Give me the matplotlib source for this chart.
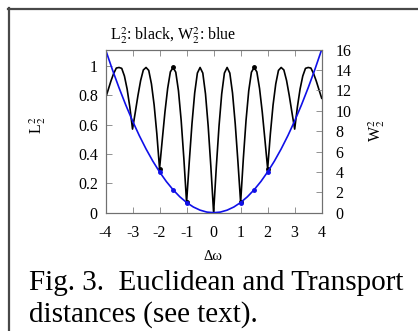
import numpy as np
import matplotlib.pyplot as plt
from matplotlib.lines import Line2D

plt.rcParams['font.family'] = ['Liberation Serif', 'DejaVu Serif']
plt.rcParams['mathtext.fontset'] = 'stix'

# frequency offset grid and the euclidean distance L2^2 (left axis)
dw = np.round(np.arange(-4, 4.01, 0.1), 1)
L2 = [0.78, 0.838, 0.897, 0.948, 0.986, 0.99, 0.984, 0.932, 0.843, 0.72,
      0.57, 0.682, 0.798, 0.901, 0.973, 0.99, 0.970, 0.878, 0.734, 0.537,
      0.30, 0.496, 0.687, 0.847, 0.960, 0.99, 0.958, 0.831, 0.629, 0.368,
      0.07, 0.348, 0.607, 0.816, 0.952, 0.99, 0.952, 0.810, 0.589, 0.310,
      0.0,
      0.310, 0.589, 0.810, 0.952, 0.99, 0.952, 0.816, 0.607, 0.348, 0.07,
      0.368, 0.629, 0.831, 0.958, 0.99, 0.960, 0.847, 0.687, 0.496, 0.30,
      0.537, 0.734, 0.878, 0.970, 0.99, 0.973, 0.901, 0.798, 0.682, 0.57,
      0.72, 0.843, 0.932, 0.984, 0.99, 0.986, 0.948, 0.897, 0.838, 0.78]

# transport distance W2^2 (right axis)
dw_w = np.arange(-4, 4.01, 0.25)
W2 = [16, 14.06, 12.25, 10.56, 9, 7.56, 6.25, 5.06, 4, 3.06, 2.25, 1.56,
      1, 0.56, 0.25, 0.06, 0, 0.06, 0.25, 0.56, 1, 1.56, 2.25, 3.06, 4,
      5.06, 6.25, 7.56, 9, 10.56, 12.25, 14.06, 16]

# marked samples
mark_L_x = [-2, -1.5, -1, 1, 1.5, 2]
mark_L_y = [0.30, 0.99, 0.07, 0.07, 0.99, 0.30]
mark_W_x = [-2, -1.5, -1, 1, 1.5, 2]
mark_W_y = [4, 2.25, 1, 1, 2.25, 4]

W, H = 418, 331
fig = plt.figure(figsize=(W / 100, H / 100), dpi=100)
ax = fig.add_axes([105.5 / W, 1 - 212.7 / H, 216.2 / W, 163.2 / H])
ax2 = ax.twinx()

ax.plot(dw, L2, color='black', lw=1.2)
ax.plot(mark_L_x, mark_L_y, 'o', color='black', ms=2.5)
ax2.plot(dw_w, W2, color='#1010e8', lw=1.2)
ax2.plot(mark_W_x, mark_W_y, 'o', color='#1010e8', ms=2.5)

ax.set_xlim(-4, 4)
ax.set_ylim(0, 1.1125)
ax2.set_ylim(0, 16)
ax.set_xticks(range(-4, 5))
ax.set_xticklabels([str(v) for v in range(-4, 5)])
ax.set_yticks([0, 0.2, 0.4, 0.6, 0.8, 1])
ax.set_yticklabels(['0', '0.2', '0.4', '0.6', '0.8', '1'])
ax2.set_yticks(range(0, 17, 2))

tick_col = '#808080'
ax.tick_params(axis='x', direction='in', top=True, length=4, width=0.6,
               color=tick_col, pad=9, labelsize=11.5)
ax.tick_params(axis='y', direction='in', length=4, width=0.6,
               color=tick_col, pad=5.5, labelsize=11.5)
ax2.tick_params(axis='y', direction='in', length=4, width=0.6,
                color=tick_col, pad=10, labelsize=11.5)
for a in (ax, ax2):
    for s in a.spines.values():
        s.set_color('#707070')
        s.set_linewidth(0.8)

fig.text(110 / W, 1 - 39.5 / H, r'L$_2^2$: black, W$_2^2$: blue',
         fontsize=11.5, ha='left', va='baseline')
fig.text(38 / W, 1 - 125 / H, r'L$_2^2$', fontsize=11.5, rotation=90,
         ha='center', va='center')
fig.text(377 / W, 1 - 131 / H, r'W$_2^2$', fontsize=11.5, rotation=90,
         ha='center', va='center')
fig.text(213 / W, 1 - 256 / H, 'Δω', fontsize=10.5, ha='center', va='center')

fig.text(29 / W, 1 - 289.5 / H, 'Fig. 3.  Euclidean and Transport',
         fontsize=21, ha='left', va='baseline')
fig.text(29 / W, 1 - 322 / H, 'distances (see text).',
         fontsize=21, ha='left', va='baseline')

# frame lines along the top and left edges
fig.add_artist(Line2D([8.5 / W, 8.5 / W], [0, 1 - 8 / H], color='#484848',
                      lw=1.6, transform=fig.transFigure))
fig.add_artist(Line2D([8 / W, 1], [1 - 8.5 / H, 1 - 8.5 / H], color='#484848',
                      lw=1.6, transform=fig.transFigure))

fig.savefig('out.png', dpi=100)
